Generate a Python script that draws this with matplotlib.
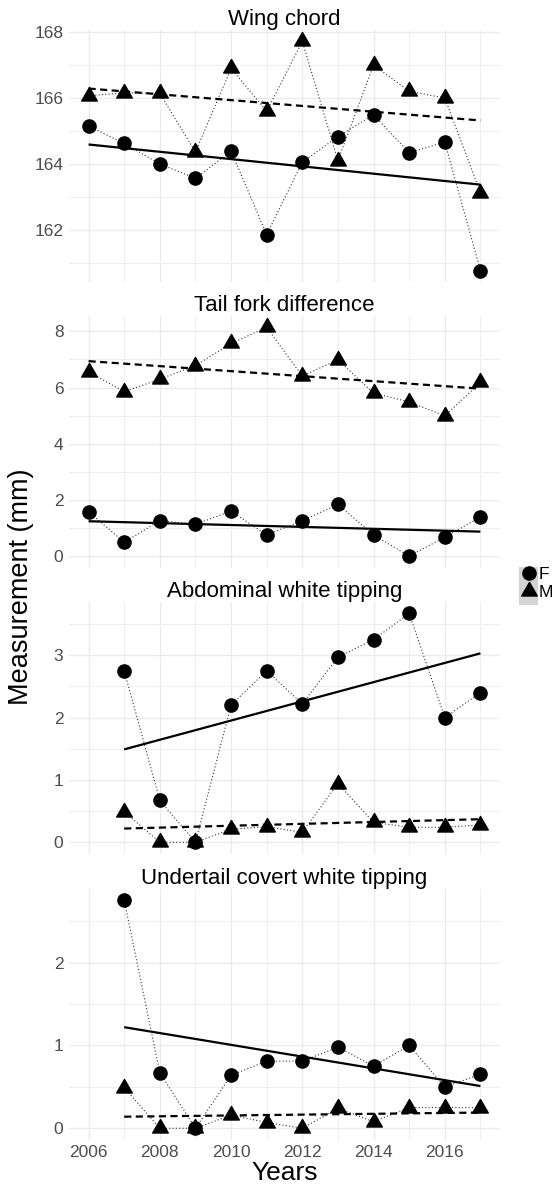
import numpy as np
import matplotlib
matplotlib.use("Agg")
import matplotlib.pyplot as plt
from matplotlib.path import Path
from matplotlib.lines import Line2D
from matplotlib.patches import Rectangle
from matplotlib.ticker import MultipleLocator

plt.rcParams['font.family'] = ['Liberation Sans', 'DejaVu Sans']

# ---------------- data ----------------
years = [2006, 2007, 2008, 2009, 2010, 2011, 2012, 2013, 2014, 2015, 2016, 2017]
years_07 = [2007, 2008, 2009, 2010, 2011, 2012, 2013, 2014, 2015, 2016, 2017]

panel_titles = ["Wing chord", "Tail fork difference",
                "Abdominal white tipping", "Undertail covert white tipping"]

wing_F = [165.15, 164.62, 164.00, 163.56, 164.39, 161.85, 164.05, 164.83, 165.49, 164.34, 164.66, 160.76]
wing_M = [166.07, 166.16, 166.14, 164.36, 166.90, 165.60, 167.72, 164.10, 167.00, 166.21, 166.00, 163.13]
wing_trend_F = [164.59, 163.37]
wing_trend_M = [166.29, 165.32]

tail_F = [1.58, 0.49, 1.26, 1.13, 1.60, 0.75, 1.26, 1.84, 0.75, 0.00, 0.67, 1.39]
tail_M = [6.56, 5.85, 6.30, 6.78, 7.57, 8.14, 6.41, 6.99, 5.80, 5.49, 4.99, 6.18]
tail_trend_F = [1.24, 0.87]
tail_trend_M = [6.94, 5.96]

abd_F = [2.75, 0.67, 0.00, 2.20, 2.75, 2.22, 2.97, 3.25, 3.67, 2.00, 2.40]
abd_M = [0.49, 0.00, 0.00, 0.21, 0.25, 0.16, 0.94, 0.32, 0.24, 0.24, 0.28]
abd_trend_F = [1.49, 3.03]
abd_trend_M = [0.22, 0.37]

under_F = [2.75, 0.67, 0.00, 0.64, 0.81, 0.81, 0.98, 0.75, 1.00, 0.50, 0.65]
under_M = [0.49, 0.00, 0.00, 0.16, 0.07, 0.00, 0.24, 0.08, 0.25, 0.25, 0.25]
under_trend_F = [1.22, 0.51]
under_trend_M = [0.14, 0.19]

panels = [
    (years, wing_F, wing_M, wing_trend_F, wing_trend_M, 2, 1),
    (years, tail_F, tail_M, tail_trend_F, tail_trend_M, 2, 1),
    (years_07, abd_F, abd_M, abd_trend_F, abd_trend_M, 1, 0.5),
    (years_07, under_F, under_M, under_trend_F, under_trend_M, 1, 0.5),
]

# ---------------- figure ----------------
W, H = 555, 1188
fig = plt.figure(figsize=(W / 100, H / 100), dpi=100)

left_px, right_px = 69, 500
panel_px = [(30, 282), (316, 567.5), (602, 853.7), (889, 1139.7)]

# equilateral triangle marker centred on its centroid
h = np.sqrt(3) / 2
tri = Path([(0, 2 * h / 3), (-0.5, -h / 3), (0.5, -h / 3), (0, 2 * h / 3)],
           [Path.MOVETO, Path.LINETO, Path.LINETO, Path.CLOSEPOLY])

grid_c = '#ebebeb'
tick_c = '#4d4d4d'

axes = []
for i, (yrs, fv, mv, tf, tm, major, minor) in enumerate(panels):
    top, bot = panel_px[i]
    ax = fig.add_axes([left_px / W, 1 - bot / H, (right_px - left_px) / W, (bot - top) / H])
    axes.append(ax)
    ax.plot(yrs, fv, linestyle=(0, (1, 2)), color='#333333', lw=0.8, zorder=2)
    ax.plot(yrs, mv, linestyle=(0, (1, 2)), color='#333333', lw=0.8, zorder=2)
    ends = [yrs[0], yrs[-1]]
    ax.plot(ends, tf, color='black', lw=1.6, zorder=3, solid_capstyle='butt')
    ax.plot(ends, tm, color='black', lw=1.6, linestyle=(0, (3.2, 2.0)), zorder=3)
    ax.plot(yrs, fv, linestyle='none', marker='o', ms=9.5, color='black', mec='black', zorder=4)
    ax.plot(yrs, mv, linestyle='none', marker=tri, ms=13, color='black', mec='black', zorder=4)

    ax.set_xlim(2006 - 0.55, 2017 + 0.55)
    ax.margins(y=0.05)
    ax.xaxis.set_major_locator(MultipleLocator(2))
    ax.xaxis.set_minor_locator(MultipleLocator(1))
    ax.yaxis.set_major_locator(MultipleLocator(major))
    ax.yaxis.set_minor_locator(MultipleLocator(minor))
    ax.grid(which='major', color=grid_c, lw=1.0, zorder=0)
    ax.grid(which='minor', color=grid_c, lw=0.6, zorder=0)
    ax.set_axisbelow(True)
    for s in ax.spines.values():
        s.set_visible(False)
    ax.tick_params(which='both', length=0, labelsize=12.5, labelcolor=tick_c, pad=4)
    ax.set_title(panel_titles[i], fontsize=16, pad=3, color='black')
    if i < 3:
        ax.tick_params(axis='x', labelbottom=False)

axes[-1].set_xlabel("Years", fontsize=19, labelpad=0.5)
fig.text(21 / W, 1 - 587 / H, "Measurement (mm)", rotation=90, fontsize=19.5,
         ha='center', va='center')

# legend
fig.add_artist(Rectangle((519 / W, 1 - 605 / H), 19 / W, 38 / H,
                         transform=fig.transFigure, facecolor='#d4d4d4', edgecolor='none'))
handles = [Line2D([], [], linestyle='none', marker='o', ms=9.5, color='black'),
           Line2D([], [], linestyle='none', marker=tri, ms=13, color='black')]
fig.legend(handles, ['F', 'M'], loc='upper left', bbox_to_anchor=(519 / W, 1 - 567 / H),
           frameon=False, fontsize=12.5, handlelength=1.1, handletextpad=0.05,
           labelspacing=0.15, borderpad=0, borderaxespad=0)

fig.savefig("out.png", dpi=100)
